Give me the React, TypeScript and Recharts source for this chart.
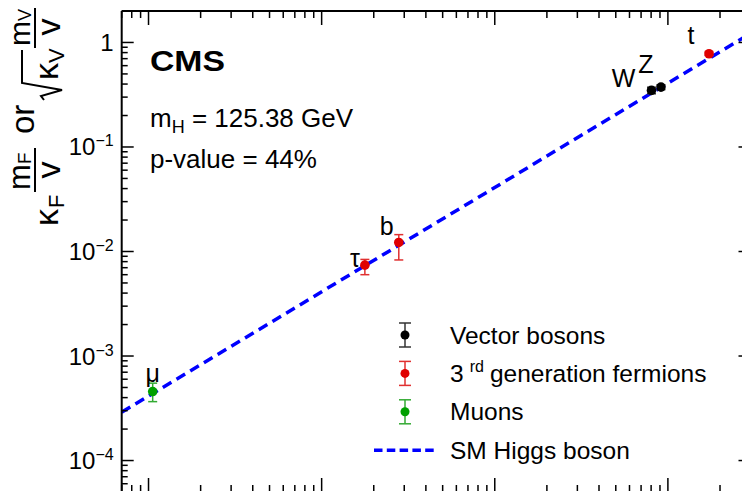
import React from "react";
import { ComposedChart, Line, Scatter, XAxis, YAxis, ErrorBar, Legend } from "recharts";

// particle masses (GeV) and measured couplings, grouped like the legend
const bosonNames = ["W", "Z"];
const bosonMass = [80.38, 91.19];
const bosonValue = [0.348, 0.374];
const bosonErrLow = [0.025, 0.02];
const bosonErrHigh = [0.025, 0.02];

const fermionNames = ["τ", "b", "t"];
const fermionMass = [1.777, 2.79, 172.8];
const fermionValue = [0.0074, 0.0122, 0.78];
const fermionErrLow = [0.0014, 0.0039, 0.03];
const fermionErrHigh = [0.001, 0.0023, 0.03];

const muonNames = ["μ"];
const muonMass = [0.1057];
const muonValue = [0.000457];
const muonErrLow = [0.000091];
const muonErrHigh = [0.000093];

// SM expectation, straight line across the mass range
const smMass = [0.07, 300];
const smValue = [0.00029, 1.22];

const massDomain = [0.07, 300];
const couplingDomain = [0.00005, 2];
const couplingMajors = [1e-4, 1e-3, 1e-2, 1e-1, 1];

const font = "'Liberation Sans', Arial, Helvetica, sans-serif";
const RED = "#e00000";
const GREEN = "#00a000";
const BLUE = "#0000ff";

const rows = (names: string[], mass: number[], value: number[], lo: number[], hi: number[]) =>
  names.map((name, i) => ({ name, mass: mass[i], value: value[i], err: [lo[i], hi[i]] }));

const bosons = rows(bosonNames, bosonMass, bosonValue, bosonErrLow, bosonErrHigh);
const fermions = rows(fermionNames, fermionMass, fermionValue, fermionErrLow, fermionErrHigh);
const muons = rows(muonNames, muonMass, muonValue, muonErrLow, muonErrHigh);
const smLine = smMass.map((mass, i) => ({ mass, value: smValue[i] }));

// log ticks: 1..9 x 10^n clipped to the domain
const logTicks = (lo: number, hi: number) => {
  const out: number[] = [];
  for (let e = Math.floor(Math.log10(lo)); e <= Math.ceil(Math.log10(hi)); e++) {
    for (let m = 1; m < 10; m++) {
      const v = Number((m * Math.pow(10, e)).toPrecision(3));
      if (v >= lo * 0.999 && v <= hi * 1.001) out.push(v);
    }
  }
  return out;
};
const massTicks = logTicks(massDomain[0], massDomain[1]);
const couplingTicks = logTicks(couplingDomain[0], couplingDomain[1]);

const isMajor = (v: number) => Math.abs(Math.log10(v) - Math.round(Math.log10(v))) < 1e-6;

// where each particle symbol sits relative to its marker
const labelOffsets: Record<string, { dx: number; dy: number }> = {
  "μ": { dx: 0, dy: -10 },
  "τ": { dx: -10, dy: 2 },
  b: { dx: -12, dy: -7 },
  W: { dx: -28, dy: -3 },
  Z: { dx: -15, dy: -14 },
  t: { dx: -18, dy: -10 },
};

const pointShape = (color: string) => (props: any) => {
  const { cx, cy, payload } = props;
  const off = labelOffsets[payload.name] || { dx: 0, dy: -10 };
  return (
    <g>
      <circle cx={cx} cy={cy} r={4.8} fill={color} />
      <text x={cx + off.dx} y={cy + off.dy} textAnchor="middle" fontSize={25} fontFamily={font} fill="#000">
        {payload.name}
      </text>
    </g>
  );
};

// ticks point inwards, ROOT style
const LeftTick = (props: any) => {
  const { x, y, payload } = props;
  const v = payload.value;
  const major = isMajor(v);
  const exp = Math.round(Math.log10(v));
  return (
    <g>
      <line x1={x} x2={x + (major ? 12 : 6)} y1={y} y2={y} stroke="#000" strokeWidth={1.5} />
      {major && couplingMajors.includes(v) && (
        <text x={x - 8} y={y + 8.5} textAnchor="end" fontSize={24} fontFamily={font} fill="#000">
          {exp === 0 ? "1" : "10"}
          {exp !== 0 && (
            <tspan dy={-9} fontSize={16}>
              {"−" + Math.abs(exp)}
            </tspan>
          )}
        </text>
      )}
    </g>
  );
};

const RightTick = (props: any) => {
  const { x, y, payload } = props;
  const len = isMajor(payload.value) ? 12 : 6;
  return <line x1={x} x2={x - len} y1={y} y2={y} stroke="#000" strokeWidth={1.5} />;
};

const TopTick = (props: any) => {
  const { x, y, payload } = props;
  const len = isMajor(payload.value) ? 14 : 7;
  return <line x1={x} x2={x} y1={y} y2={y + len} stroke="#000" strokeWidth={1.5} />;
};

const BottomTick = (props: any) => {
  const { x, y, payload } = props;
  const len = isMajor(payload.value) ? 14 : 7;
  return <line x1={x} x2={x} y1={y} y2={y - len} stroke="#000" strokeWidth={1.5} />;
};

const legendItems = [
  { label: "Vector bosons", color: "#000", bar: "#333" },
  { label: "generation fermions", prefix: "3", sup: "rd", color: RED, bar: "#e03030" },
  { label: "Muons", color: GREEN, bar: "#33aa33" },
  { label: "SM Higgs boson", color: BLUE, dashed: true },
];

const LegendBox = () => (
  <svg width={390} height={165} style={{ display: "block" }}>
    {legendItems.map((item, i) => {
      const cy = 25 + i * 38.4;
      return (
        <g key={item.label}>
          {item.dashed ? (
            <line x1={14} x2={77} y1={cy} y2={cy} stroke={item.color} strokeWidth={3.5} strokeDasharray="8.5 4.3" />
          ) : (
            <g stroke={item.bar} strokeWidth={1.5}>
              <line x1={45} x2={45} y1={cy - 12} y2={cy + 12} />
              <line x1={39} x2={51} y1={cy - 12} y2={cy - 12} />
              <line x1={39} x2={51} y1={cy + 12} y2={cy + 12} />
              <circle cx={45} cy={cy} r={4.5} fill={item.color} stroke="none" />
            </g>
          )}
          <text x={90} y={cy + 8.5} fontSize={24.5} fontFamily={font} fill="#000">
            {item.prefix ? (
              <>
                {item.prefix}
                <tspan dx={6} dy={-10} fontSize={16}>
                  {item.sup}
                </tspan>
                <tspan dx={6} dy={10}>
                  {item.label}
                </tspan>
              </>
            ) : (
              item.label
            )}
          </text>
        </g>
      );
    })}
  </svg>
);

// rotated axis title: κF mF/v or √κV mV/v
const YTitle = () => (
  <g transform="rotate(-90)" fontFamily={font} fill="#000">
    <text x={-226} y={58} fontSize={34}>κ</text>
    <text x={-208} y={64} fontSize={22}>F</text>
    <text x={-190} y={30} fontSize={31}>m</text>
    <text x={-164} y={31} fontSize={19}>F</text>
    <line x1={-192} x2={-148} y1={35} y2={35} stroke="#000" strokeWidth={2} />
    <text x={-170} y={60} fontSize={34} textAnchor="middle">v</text>
    <text x={-134} y={34} fontSize={33}>or</text>
    <polyline points="-100,44 -96,41 -90,62 -83,22 -50,22" fill="none" stroke="#000" strokeWidth={2} />
    <text x={-80} y={58} fontSize={34}>κ</text>
    <text x={-63} y={64} fontSize={22}>V</text>
    <text x={-46} y={30} fontSize={30}>m</text>
    <text x={-21} y={31} fontSize={18}>V</text>
    <line x1={-48} x2={-8} y1={35} y2={35} stroke="#000" strokeWidth={2} />
    <text x={-27} y={60} fontSize={34} textAnchor="middle">v</text>
  </g>
);

export default function App() {
  return (
    <div style={{ position: "relative", width: 750, height: 491, overflow: "hidden", margin: "-8px 0 0 -8px", background: "#fff" }}>
      <ComposedChart width={760} height={500} margin={{ top: 10, right: 8.5, left: 0, bottom: 0 }}>
        <XAxis
          xAxisId="bottom"
          dataKey="mass"
          type="number"
          scale="log"
          domain={massDomain}
          allowDataOverflow
          ticks={massTicks}
          interval={0}
          height={8}
          tickSize={0}
          tickMargin={0}
          tickLine={false}
          tick={<BottomTick />}
          axisLine={{ stroke: "#000", strokeWidth: 2 }}
        />
        <XAxis
          xAxisId="top"
          orientation="top"
          dataKey="mass"
          type="number"
          scale="log"
          domain={massDomain}
          allowDataOverflow
          ticks={massTicks}
          interval={0}
          height={1}
          tickSize={0}
          tickMargin={0}
          tickLine={false}
          tick={<TopTick />}
          axisLine={{ stroke: "#000", strokeWidth: 2 }}
        />
        <YAxis
          yAxisId="left"
          dataKey="value"
          type="number"
          scale="log"
          domain={couplingDomain}
          allowDataOverflow
          ticks={couplingTicks}
          interval={0}
          width={121.7}
          tickSize={0}
          tickMargin={0}
          tickLine={false}
          tick={<LeftTick />}
          axisLine={{ stroke: "#000", strokeWidth: 2 }}
        />
        <YAxis
          yAxisId="right"
          orientation="right"
          dataKey="value"
          type="number"
          scale="log"
          domain={couplingDomain}
          allowDataOverflow
          ticks={couplingTicks}
          interval={0}
          width={1}
          tickSize={0}
          tickMargin={0}
          tickLine={false}
          tick={<RightTick />}
          axisLine={{ stroke: "#000", strokeWidth: 2 }}
        />
        <Line
          xAxisId="bottom"
          yAxisId="left"
          data={smLine}
          dataKey="value"
          type="linear"
          stroke={BLUE}
          strokeWidth={3.5}
          strokeDasharray="10 6"
          dot={false}
          activeDot={false}
          isAnimationActive={false}
        />
        <Scatter xAxisId="bottom" yAxisId="left" data={bosons} dataKey="value" shape={pointShape("#000")} isAnimationActive={false}>
          <ErrorBar dataKey="err" direction="y" width={4.5} stroke="#333" strokeWidth={1.5} />
        </Scatter>
        <Scatter xAxisId="bottom" yAxisId="left" data={fermions} dataKey="value" shape={pointShape(RED)} isAnimationActive={false}>
          <ErrorBar dataKey="err" direction="y" width={4.5} stroke="#e03030" strokeWidth={1.5} />
        </Scatter>
        <Scatter xAxisId="bottom" yAxisId="left" data={muons} dataKey="value" shape={pointShape(GREEN)} isAnimationActive={false}>
          <ErrorBar dataKey="err" direction="y" width={4.5} stroke="#33aa33" strokeWidth={1.5} />
        </Scatter>
        <Legend
          layout="vertical"
          align="center"
          verticalAlign="middle"
          content={() => <LegendBox />}
          wrapperStyle={{ left: 360, top: 310, width: 390, height: 165 }}
        />
      </ComposedChart>
      <svg width={750} height={491} style={{ position: "absolute", left: 0, top: 0, pointerEvents: "none" }}>
        <rect x={0} y={0} width={2.3} height={491} fill="#111" />
        <YTitle />
        <text x={150} y={71} fontSize={29} fontWeight="bold" fontFamily={font} textLength={75} lengthAdjust="spacingAndGlyphs">
          CMS
        </text>
        <text x={150} y={127} fontSize={26} fontFamily={font}>
          m
          <tspan dy={6} fontSize={18}>H</tspan>
          <tspan dy={-6}> = 125.38 GeV</tspan>
        </text>
        <text x={150} y={168} fontSize={26} fontFamily={font}>
          p-value = 44%
        </text>
      </svg>
    </div>
  );
}
